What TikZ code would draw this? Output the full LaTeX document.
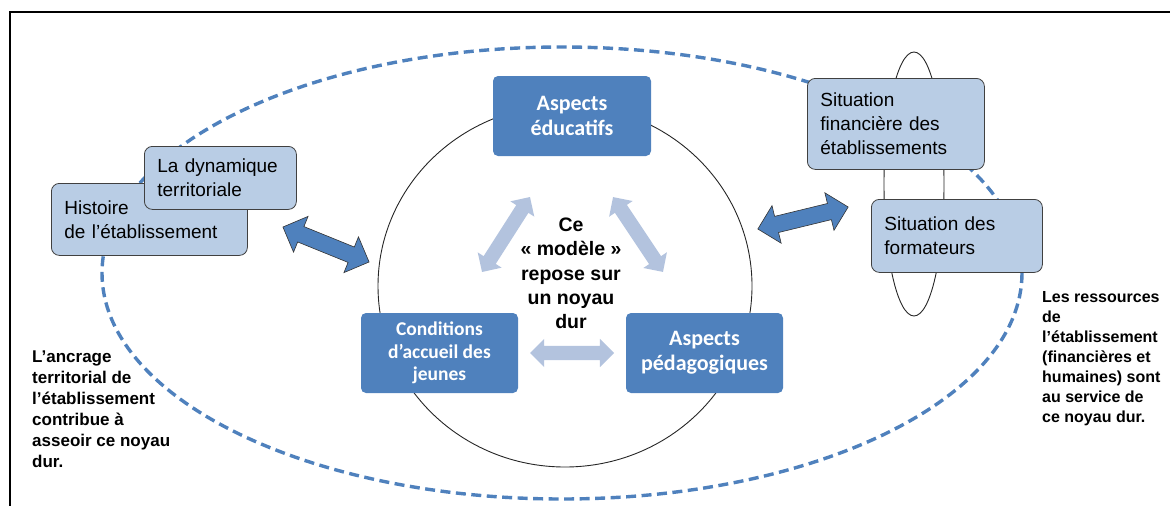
\documentclass[tikz,border=0pt]{standalone}
\usepackage{fontspec}
\setmainfont{Liberation Sans}
\newfontfamily\calibri{Carlito}
\usetikzlibrary{shapes.arrows}
\definecolor{coreblue}{HTML}{4F81BD}
\definecolor{paleblue}{HTML}{B9CDE5}
\definecolor{softblue}{HTML}{B3C3DE}
\definecolor{edgegray}{HTML}{404040}

\begin{document}
\begin{tikzpicture}[x=1pt, y=-1pt,
  core/.style={fill=coreblue, text=white, rounded corners=5pt, align=center, inner sep=0pt, font=\calibri\bfseries},
  res/.style={draw=edgegray, line width=0.8pt, fill=paleblue, rounded corners=8pt, align=left, inner xsep=13pt, inner ysep=0pt, font=\fontsize{19}{24}\selectfont},
  hardarrow/.style={double arrow, draw=black!80, line width=0.6pt, fill=coreblue, inner xsep=0pt, inner ysep=8pt, double arrow head extend=11pt},
  softarrow/.style={double arrow, fill=softblue, inner xsep=0pt, inner ysep=7pt, double arrow head extend=7pt},
  note/.style={align=left, inner sep=0pt, anchor=north west, font=\bfseries}
]
\useasboundingbox (0,0) rectangle (1170,506);
\draw[line width=2pt] (10,506) -- (10,12) -- (1170,12);

% outer dashed ring and the inner circle
\draw[coreblue, line width=3.4pt, dash pattern=on 10pt off 5.5pt] (562,273) ellipse [x radius=460, y radius=226];
\draw[black!85, line width=0.9pt] (565,286) ellipse [x radius=187, y radius=181];
\draw[black!85, line width=0.9pt] (914,184) ellipse [x radius=30, y radius=132];

% core of the model
\node[core, minimum width=158pt, minimum height=80pt, font=\calibri\bfseries\fontsize{22}{25}\selectfont] (educ) at (572,116) {Aspects\\éducatifs};
\node[core, minimum width=157pt, minimum height=80pt, font=\calibri\bfseries\fontsize{19.5}{22.5}\selectfont] (accueil) at (439.5,353) {Conditions\\d’accueil des\\jeunes};
\node[core, minimum width=157pt, minimum height=80pt, font=\calibri\bfseries\fontsize{22}{25}\selectfont] (peda) at (704.5,353) {Aspects\\pédagogiques};
\node[align=center, inner sep=0pt, font=\bfseries\fontsize{19.5}{24.3}\selectfont] (noyau) at (571,273.5) {Ce\\« modèle »\\repose sur\\un noyau\\dur};

\node[softarrow, minimum height=89pt, rotate=57.4] (linkL) at (506,234.5) {};
\node[softarrow, minimum height=90pt, rotate=-56.3] (linkR) at (638,234.5) {};
\node[softarrow, minimum height=84pt] (linkB) at (572,353) {};

% territorial side
\node[res, text width=170pt, minimum height=72pt, anchor=north west] (histoire) at (51,183) {Histoire\\de l’établissement};
\node[res, text width=126pt, minimum height=63pt, anchor=north west] (dynamique) at (144,146) {La dynamique\\territoriale};

% resources side
\node[res, text width=151pt, minimum height=91pt, anchor=north west] (finance) at (807,78) {Situation\\financière des\\établissements};
\node[res, text width=145pt, minimum height=73pt, anchor=north west] (formateurs) at (871,199) {Situation des\\formateurs};

\node[hardarrow, minimum height=93pt, rotate=-22.1] (ancrage) at (326,244.5) {};
\node[hardarrow, minimum height=93pt, rotate=13.7] (ressources) at (803,218) {};

% side notes
\node[note, font=\bfseries\fontsize{17}{21}\selectfont] (noteL) at (32,351) {L’ancrage\\territorial de\\l’établissement\\contribue à\\asseoir ce noyau\\dur.};
\node[note, font=\bfseries\fontsize{16}{20}\selectfont] (noteR) at (1042,291.5) {Les ressources\\de\\l’établissement\\(financières et\\humaines) sont\\au service de\\ce noyau dur.};
\end{tikzpicture}
\end{document}
